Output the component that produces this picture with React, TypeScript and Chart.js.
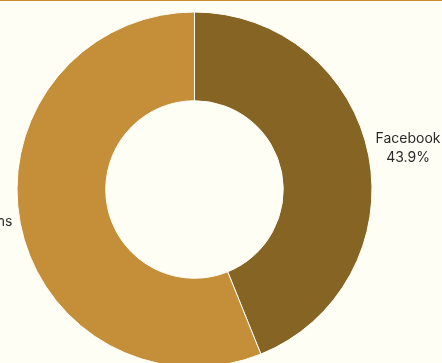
import React, { useEffect, useRef } from "react";
import { Chart, registerables } from "chart.js";

Chart.register(...registerables);

const categories = ["Facebook", "Other Platforms"];
const shares = [43.9, 56.1];
const sliceColors = ["#856424", "#c58f39"];

const labelPlugin = {
  id: "outerLabels",
  afterDatasetsDraw(chart: any) {
    const ctx = chart.ctx;
    const meta = chart.getDatasetMeta(0);
    ctx.save();
    ctx.font = "14px Inter, 'Noto Sans', sans-serif";
    ctx.fillStyle = "#2b2b2b";
    ctx.textAlign = "center";
    ctx.textBaseline = "middle";
    meta.data.forEach((arc: any, i: number) => {
      const p = arc.getProps(["x", "y", "startAngle", "endAngle", "outerRadius"], true);
      const mid = (p.startAngle + p.endAngle) / 2;
      const r = p.outerRadius + 40;
      const cx = p.x + Math.cos(mid) * r;
      const cy = p.y + Math.sin(mid) * r;
      const name = categories[i].split(" ").slice(-1)[0];
      const lines = [i === 0 ? categories[i] : name, shares[i].toFixed(1) + "%"];
      const lh = 19;
      lines.forEach((t, k) => {
        ctx.fillText(t, cx, cy + (k - (lines.length - 1) / 2) * lh);
      });
    });
    ctx.restore();
  },
};

export default function App() {
  const ref = useRef<HTMLCanvasElement | null>(null);
  useEffect(() => {
    if (!ref.current) return;
    const chart = new Chart(ref.current, {
      type: "doughnut",
      data: {
        labels: categories,
        datasets: [
          {
            data: shares,
            backgroundColor: sliceColors,
            borderColor: "#fffef5",
            borderWidth: 1,
          },
        ],
      },
      options: {
        responsive: false,
        animation: false,
        cutout: "50%",
        layout: { padding: { left: 116.5, top: 61.5, right: 167.5, bottom: 62.5 } },
        plugins: { legend: { display: false }, tooltip: { enabled: false } },
      },
      plugins: [labelPlugin],
    });
    return () => chart.destroy();
  }, []);
  return (
    <div
      style={{
        position: "fixed",
        left: 0,
        top: 0,
        width: 442,
        height: 363,
        overflow: "hidden",
        background: "#fffef5",
      }}
    >
      <canvas
        ref={ref}
        width={640}
        height={480}
        style={{ position: "absolute", left: -100, top: -50, width: 640, height: 480 }}
      />
      <div
        style={{
          position: "absolute",
          left: 0,
          top: 0,
          width: 442,
          height: 1,
          background: "#c8902f",
        }}
      />
    </div>
  );
}
